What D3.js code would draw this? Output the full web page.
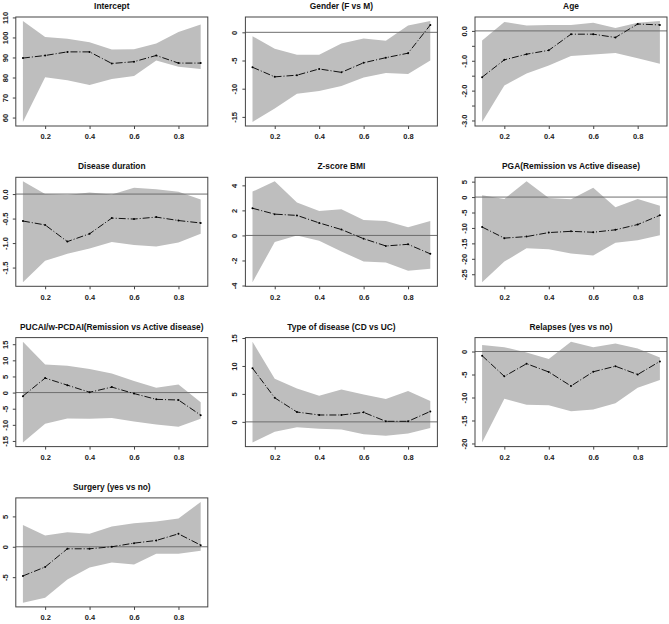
<!DOCTYPE html>
<html>
<head>
<meta charset="utf-8">
<script src="https://cdn.jsdelivr.net/npm/d3@7"></script>
<style>
  body { margin: 0; background: #fff; }
  svg text { font-family: "Liberation Sans", Arial, sans-serif; }
</style>
</head>
<body>
<div id="chart"></div>
<script>
const width = 669;
const height = 624;

// quantile levels on the x axis
const taus = [0.1, 0.2, 0.3, 0.4, 0.5, 0.6, 0.7, 0.8, 0.9];
const xTicks = [0.2, 0.4, 0.6, 0.8];

const titles = [
    "Intercept",
    "Gender (F vs M)",
    "Age",
    "Disease duration",
    "Z-score BMI",
    "PGA(Remission vs Active disease)",
    "PUCAI/w-PCDAI(Remission vs Active disease)",
    "Type of disease (CD vs UC)",
    "Relapses (yes vs no)",
    "Surgery (yes vs no)"
];

const estimates = [
    [89.7, 91.0, 92.8, 92.8, 87.0, 87.9, 91.0, 87.2, 87.2],
    [-6.2, -7.9, -7.6, -6.5, -7.1, -5.4, -4.5, -3.7, 1.3],
    [-1.55, -0.97, -0.78, -0.65, -0.11, -0.11, -0.22, 0.23, 0.2],
    [-0.55, -0.63, -0.97, -0.81, -0.49, -0.51, -0.47, -0.54, -0.59],
    [2.17, 1.70, 1.60, 1.0, 0.47, -0.26, -0.84, -0.71, -1.47],
    [-9.7, -13.3, -12.8, -11.5, -11.1, -11.4, -10.6, -8.9, -5.9],
    [-1.1, 4.5, 2.3, 0.1, 1.7, -0.3, -2.1, -2.3, -7.0],
    [9.6, 4.3, 1.76, 1.23, 1.23, 1.7, 0.1, 0.1, 1.87],
    [-0.9, -5.4, -2.65, -4.45, -7.5, -4.4, -3.2, -5.0, -2.15],
    [-4.8, -3.33, -0.33, -0.33, 0.0, 0.6, 1.04, 2.13, 0.27]
];

const upperCI = [
    [108.2, 100.2, 99.3, 97.6, 94.0, 94.1, 97.0, 102.7, 106.5],
    [-0.7, -2.9, -4.0, -4.0, -2.0, -1.1, -1.5, 1.2, 2.0],
    [-0.32, 0.30, 0.18, 0.2, 0.2, 0.27, 0.1, 0.27, 0.33],
    [0.26, 0.0, -0.02, 0.03, -0.01, 0.13, 0.1, 0.05, -0.11],
    [3.5, 4.32, 2.62, 1.96, 2.09, 1.23, 1.15, 0.65, 1.15],
    [0.6, -0.6, 5.1, -0.3, -0.7, 3.0, -3.3, -0.6, -2.8],
    [15.8, 8.7, 8.3, 7.3, 5.9, 3.6, 1.5, 2.5, -3.0],
    [14.35, 7.7, 5.97, 4.65, 5.8, 4.9, 4.1, 5.5, 3.75],
    [1.43, 0.93, -0.2, -1.6, 2.15, 0.93, 1.72, 0.65, -1.3],
    [3.6, 1.86, 2.4, 2.13, 3.33, 3.88, 4.15, 4.64, 7.38]
];

const lowerCI = [
    [57.8, 80.1, 78.6, 76.3, 79.3, 80.7, 88.5, 85.4, 84.2],
    [-15.9, -13.5, -10.9, -10.4, -9.5, -8.0, -7.2, -7.4, -5.0],
    [-3.05, -1.83, -1.43, -1.16, -0.84, -0.79, -0.74, -0.92, -1.10],
    [-1.80, -1.36, -1.22, -1.11, -0.98, -1.04, -1.07, -0.99, -0.81],
    [-3.74, -0.52, 0.0, -0.42, -1.28, -2.09, -2.17, -2.83, -2.67],
    [-27.6, -20.9, -16.6, -16.9, -18.3, -18.9, -14.8, -14.0, -12.4],
    [-15.5, -9.7, -8.0, -8.1, -7.9, -9.0, -9.9, -10.6, -8.1],
    [-3.7, -1.76, -0.94, -1.23, -1.35, -2.2, -2.5, -2.1, -1.1],
    [-19.8, -10.25, -11.6, -11.7, -13.0, -12.6, -11.25, -7.9, -6.2],
    [-9.23, -8.4, -5.4, -3.4, -2.57, -2.9, -1.15, -1.15, -0.66]
];

const yTicks = [
    [60, 70, 80, 90, 100, 110],
    [0, -5, -10, -15],
    [0, -0.5, -1, -1.5, -2, -2.5, -3],
    [0, -0.5, -1, -1.5],
    [4, 2, 0, -2, -4],
    [5, 0, -5, -10, -15, -20, -25],
    [15, 10, 5, 0, -5, -10, -15],
    [15, 10, 5, 0],
    [0, -5, -10, -15, -20],
    [5, 0, -5]
];

const yTickLabels = [
    ["60", "70", "80", "90", "100", "110"],
    ["0", "-5", "-10", "-15"],
    ["0.0", "", "-1.0", "", "-2.0", "", "-3.0"],
    ["0.0", "-0.5", "-1.0", "-1.5"],
    ["4", "2", "0", "-2", "-4"],
    ["5", "0", "-5", "-10", "-15", "-20", "-25"],
    ["15", "10", "5", "0", "-5", "-10", "-15"],
    ["15", "10", "5", "0"],
    ["0", "-5", "-10", "-15", "-20"],
    ["5", "0", "-5"]
];

const plotW = 192;
const plotH = 109;
const colStep = 229.6;
const rowStep = 160.3;
const left0 = 15.8;
const top0 = 17;

const svg = d3.select("#chart")
    .append("svg")
    .attr("width", width)
    .attr("height", height);

titles.forEach((title, i) => {
    const col = i % 3;
    const row = Math.floor(i / 3);
    const g = svg.append("g")
        .attr("transform", `translate(${left0 + col * colStep},${top0 + row * rowStep})`);

    const lo = d3.min(lowerCI[i]);
    const hi = d3.max(upperCI[i]);
    const pad = (hi - lo) * 0.04;

    const x = d3.scaleLinear().domain([0.068, 0.932]).range([0, plotW]);
    const y = d3.scaleLinear().domain([lo - pad, hi + pad]).range([plotH, 0]);

    const band = taus.map((t, k) => ({ t: t, lo: lowerCI[i][k], hi: upperCI[i][k] }));
    g.append("path")
        .datum(band)
        .attr("fill", "#bebebe")
        .attr("d", d3.area().x(d => x(d.t)).y0(d => y(d.lo)).y1(d => y(d.hi)));

    if (y.domain()[0] < 0 && y.domain()[1] > 0) {
        g.append("line")
            .attr("x1", 0).attr("x2", plotW)
            .attr("y1", y(0)).attr("y2", y(0))
            .attr("stroke", "#6e6e6e")
            .attr("stroke-width", 1);
    }

    const pts = taus.map((t, k) => [x(t), y(estimates[i][k])]);
    g.append("path")
        .attr("d", d3.line()(pts))
        .attr("fill", "none")
        .attr("stroke", "#111")
        .attr("stroke-width", 1)
        .attr("stroke-dasharray", "7,2,1,2");
    g.selectAll(".pt")
        .data(pts)
        .enter()
        .append("circle")
        .attr("cx", d => d[0])
        .attr("cy", d => d[1])
        .attr("r", 1)
        .attr("fill", "#000");

    g.append("rect")
        .attr("width", plotW)
        .attr("height", plotH)
        .attr("fill", "none")
        .attr("stroke", "#444")
        .attr("stroke-width", 1);

    // axes
    const xAxis = g.append("g")
        .attr("transform", `translate(0,${plotH})`)
        .call(d3.axisBottom(x).tickValues(xTicks).tickSize(3).tickPadding(5).tickFormat(d3.format(".1f")));
    const yAxis = g.append("g")
        .call(d3.axisLeft(y).tickValues(yTicks[i]).tickSize(3).tickFormat((d, k) => yTickLabels[i][k]));

    [xAxis, yAxis].forEach(ax => {
        ax.select(".domain").remove();
        ax.selectAll("line").attr("stroke", "#444");
        ax.selectAll("text")
            .style("font-size", "7.5px")
            .style("font-weight", "bold")
            .attr("fill", "#222");
    });

    yAxis.selectAll("text")
        .attr("x", 0)
        .attr("dy", null)
        .attr("transform", "translate(-10.5,0) rotate(-90)")
        .attr("dominant-baseline", "central")
        .style("text-anchor", "middle");

    g.append("text")
        .attr("x", plotW / 2)
        .attr("y", -8)
        .attr("text-anchor", "middle")
        .style("font-size", "8.4px")
        .style("font-weight", "bold")
        .attr("fill", "#111")
        .text(title);
});
</script>
</body>
</html>
